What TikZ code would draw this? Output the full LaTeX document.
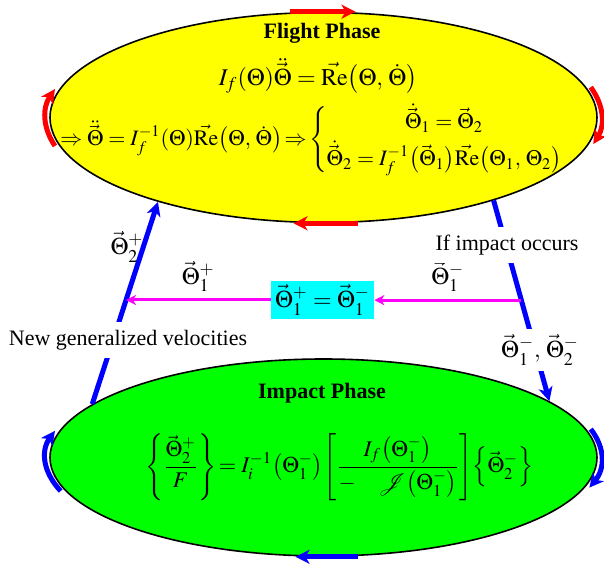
\documentclass[tikz,border=0pt]{standalone}
\usepackage{amsmath}
\usepackage{mathptmx}
\usepackage[no-math]{fontspec}
\setmainfont{Liberation Serif}
\usetikzlibrary{arrows.meta,shapes.geometric,calc}
\definecolor{flightyellow}{RGB}{255,255,0}
\definecolor{impactgreen}{RGB}{0,255,0}
\definecolor{boxcyan}{RGB}{0,255,255}
\definecolor{pink}{RGB}{255,0,255}
\definecolor{pureblue}{RGB}{0,0,255}
\definecolor{purered}{RGB}{255,0,0}

\begin{document}
\begin{tikzpicture}[
    x=0.5pt, y=-0.5pt,
    phase/.style={ellipse, draw=black, line width=0.8pt, minimum width=273.5pt, minimum height=105pt, inner sep=0pt},
    title/.style={font=\fontsize{11}{13}\selectfont\bfseries},
    eq/.style={font=\fontsize{12}{14}\selectfont, text=black},
    lbl/.style={font=\fontsize{11}{13}\selectfont},
    redarr/.style={-{Stealth[length=7pt,width=7pt,inset=2pt]}, purered, line width=2.5pt},
    bluearr/.style={-{Stealth[length=7pt,width=7pt,inset=2pt]}, pureblue, line width=2.5pt},
    pinkarr/.style={-{Stealth[length=5pt,width=5pt,inset=1.5pt]}, pink, line width=1.5pt},
]
\useasboundingbox (0,0) rectangle (604,566);

\node[phase, fill=flightyellow] (flight) at (323.5,117.5) {};
\node[phase, fill=impactgreen, minimum height=98.5pt] (impact) at (323.5,457.5) {};

% phase contents
\node[title] (ftitle) at (322,33) {Flight Phase};
\node[eq] (feq1) at (318,76) {$I_f(\Theta)\ddot{\vec{\Theta}}=\vec{\mathrm{Re}}\bigl(\Theta,\,\dot{\Theta}\bigr)$};
\node[eq, font=\fontsize{11}{13}\selectfont] (feq2) at (312,140) {$\Rightarrow\ddot{\vec{\Theta}}=I_f^{-1}(\Theta)\vec{\mathrm{Re}}\bigl(\Theta,\,\dot{\Theta}\bigr)\!\Rightarrow\!
  \left\{\begin{array}{@{}c@{}}\dot{\vec{\Theta}}_1=\vec{\Theta}_2\\[2pt]
  \dot{\vec{\Theta}}_2=I_f^{-1}\bigl(\vec{\Theta}_1\bigr)\vec{\mathrm{Re}}\bigl(\Theta_1,\,\Theta_2\bigr)\end{array}\right.$};
\node[title] (ititle) at (322,393) {Impact Phase};
\node[eq, font=\fontsize{11.2}{13}\selectfont] (ieq) at (339,467) {$\left\{\dfrac{\vec{\Theta}_2^+}{F}\right\}\!=I_i^{-1}\bigl(\Theta_1^-\bigr)\!\left[\dfrac{I_f\bigl(\Theta_1^-\bigr)}{-\quad\mathcal{J}\bigl(\Theta_1^-\bigr)}\right]\!\left\{\vec{\Theta}_2^-\right\}$};

% circulation arrows
\draw[redarr] ([xshift=-17pt]flight.north) -- ([xshift=16pt]flight.north);
\draw[redarr] ([xshift=17pt]flight.south) -- ([xshift=-15pt]flight.south);
\draw[redarr] ([shift={(195:139pt and 55pt)}]flight.center) arc[start angle=195, end angle=165, x radius=139pt, y radius=55pt];
\draw[redarr] ([shift={(16:139pt and 55pt)}]flight.center) arc[start angle=16, end angle=-14, x radius=139pt, y radius=55pt];
\draw[bluearr] ([xshift=17pt]impact.south) -- ([xshift=-14pt]impact.south);
\draw[bluearr] ([shift={(199:139pt and 51.5pt)}]impact.center) arc[start angle=199, end angle=165, x radius=139pt, y radius=51.5pt];
\draw[bluearr] ([shift={(16:139pt and 51.5pt)}]impact.center) arc[start angle=16, end angle=-17, x radius=139pt, y radius=51.5pt];

% transitions
\draw[bluearr] (impact.167) -- coordinate[pos=0.514] (hitL) (flight.207);
\draw[bluearr] (flight.-26) -- coordinate[pos=0.4965] (hitR) (impact.14);

\node[eq, fill=boxcyan, inner sep=2pt] (eqbox) at (322.5,300) {$\vec{\Theta}_1^+=\vec{\Theta}_1^-$};
\draw[pinkarr] (hitR) -- node[eq, above] {$\vec{\Theta}_1^-$} (hitR -| eqbox.east);
\draw[pinkarr] (eqbox.west) -- node[eq, above] {$\vec{\Theta}_1^+$} (eqbox.west -| hitL);

\node[lbl, fill=white, inner sep=4pt] (occurs) at (507,245) {If impact occurs};
\node[eq, fill=white, inner sep=3pt] (minus) at (540,350) {$\vec{\Theta}_1^-,\,\vec{\Theta}_2^-$};
\node[lbl, fill=white, inner sep=4pt] (newvel) at (128,340) {New generalized velocities};
\node[eq] (plus2) at (127,247) {$\vec{\Theta}_2^+$};
\end{tikzpicture}
\end{document}
